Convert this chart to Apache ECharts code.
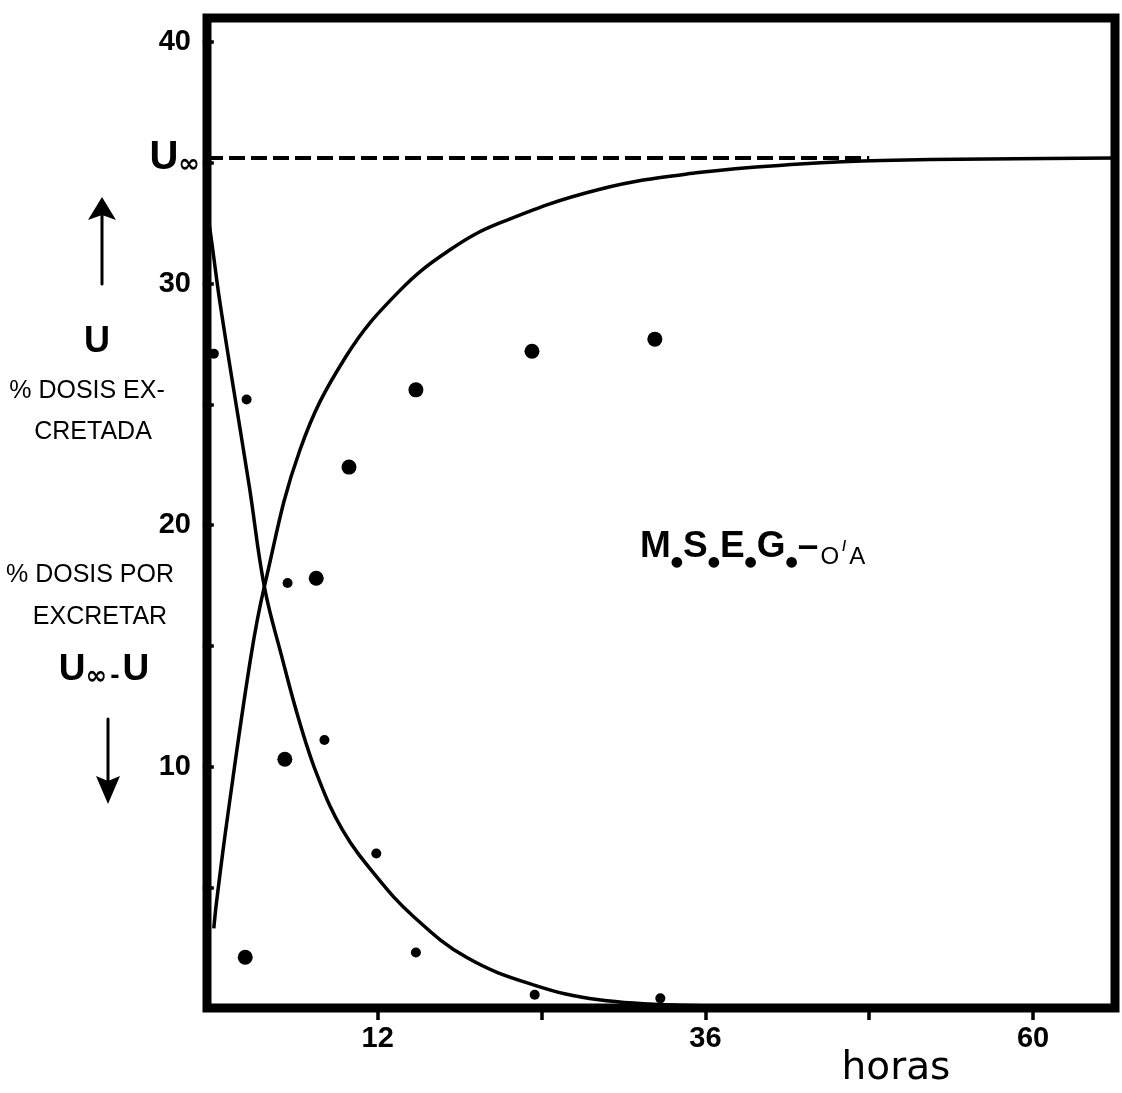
<!DOCTYPE html>
<html>
<head>
<meta charset="utf-8">
<script src="https://cdn.jsdelivr.net/npm/echarts@6/dist/echarts.min.js"></script>
<style>
  html, body { margin: 0; padding: 0; background: #fff; }
  #chart { width: 1122px; height: 1093px; }
</style>
</head>
<body>
<div id="chart"></div>
<script>
// Urinary excretion of M.S.E.G. (O/A): cumulative amount excreted U and
// amount still to be excreted (U∞ − U), both in % of dose, against hours.

// Measured cumulative excretion U (large dots)
const excretedHours = [2.3, 5.2, 7.5, 9.9, 14.8, 23.3, 32.3];
const excretedPct   = [2.1, 10.3, 17.8, 22.4, 25.6, 27.2, 27.7];

// Measured amount remaining U∞ − U (small dots)
const remainingHours = [0.0, 2.4, 5.4, 8.1, 11.9, 14.8, 23.5, 32.7];
const remainingPct   = [27.1, 25.2, 17.6, 11.1, 6.4, 2.3, 0.55, 0.4];

// Fitted curve for U
const fitHoursU = [0, 0.2, 1.0, 2.7, 3.7, 6.3, 9.7, 13.6, 17.3, 20.9, 28.2, 35.5, 42.9, 48.9, 66];
const fitU      = [3.3, 4.4, 7.9, 14.5, 17.45, 23.1, 27.0, 29.7, 31.4, 32.5, 33.9, 34.6, 34.95, 35.1, 35.2];

// Fitted curve for U∞ − U
const fitHoursRemaining = [-0.5, -0.1, 0.4, 1.4, 2.6, 3.7, 5.0, 6.3, 7.6, 9.4, 11.9, 14.6, 18.5, 23.4, 28.2, 35, 45, 66];
const fitRemaining      = [33.1, 31.5, 29.4, 25.8, 21.6, 17.45, 14.5, 11.8, 9.6, 7.4, 5.45, 3.8, 2.1, 0.96, 0.34, 0.1, 0.03, 0];

// Asymptote U∞ and axis ticks
const uInfinity = 35.2;
const uInfinityEndHour = 48;
const xTickValues  = [12, 24, 36, 48, 60];
const xLabelValues = [12, 36, 60];
const yTickValues  = [5, 10, 15, 20, 25, 30, 35, 40];
const yLabelValues = [10, 20, 30, 40];

const FONT = 'Liberation Sans';
const pairs = (xs, ys) => xs.map((x, i) => [x, ys[i]]);

const chart = echarts.init(document.getElementById('chart'), null, { renderer: 'canvas' });

const tickLabel = {
  color: '#000', fontSize: 29, fontWeight: 'bold', fontFamily: FONT, margin: 16
};

function txt(x, y, text, extra) {
  return {
    type: 'text', x: x, y: y, z: 10,
    style: Object.assign({
      text: text, fill: '#000',
      fontFamily: FONT, fontSize: 25,
      align: 'center', verticalAlign: 'middle',
      textAlign: 'center', textVerticalAlign: 'middle'
    }, extra || {})
  };
}

chart.setOption({
  animation: false,
  backgroundColor: '#fff',
  grid: {
    left: 207, right: 7, top: 18, bottom: 85,
    show: true, borderColor: '#000', borderWidth: 9, backgroundColor: 'transparent'
  },
  xAxis: {
    type: 'value', min: -0.5, max: 66,
    axisLine: { show: false },
    splitLine: { show: false },
    axisTick: { show: true, customValues: xTickValues, length: 12, lineStyle: { color: '#000', width: 3.5 } },
    axisLabel: Object.assign({ customValues: xLabelValues }, tickLabel)
  },
  yAxis: {
    type: 'value', min: 0, max: 41,
    axisLine: { show: false },
    splitLine: { show: false },
    axisTick: { show: true, customValues: yTickValues, length: 11, lineStyle: { color: '#000', width: 3.5 } },
    axisLabel: Object.assign({ customValues: yLabelValues }, tickLabel)
  },
  series: [
    {
      type: 'line', name: 'U',
      data: pairs(fitHoursU, fitU),
      smooth: 0.4, showSymbol: false, silent: true,
      lineStyle: { color: '#000', width: 3.5 },
      z: 3,
      markLine: {
        silent: true, symbol: ['none', 'none'],
        lineStyle: { color: '#000', width: 4, type: [16, 6] },
        label: {
          show: true, position: 'start', distance: 7,
          formatter: '{u|U}{i|∞}',
          rich: {
            u: { fontSize: 40, fontWeight: 'bold', fontFamily: FONT, color: '#000', lineHeight: 40 },
            i: { fontSize: 26, fontWeight: 'bold', fontFamily: 'DejaVu Sans', color: '#000', lineHeight: 14, verticalAlign: 'bottom' }
          }
        },
        data: [[{ coord: [-0.5, uInfinity] }, { coord: [uInfinityEndHour, uInfinity] }]]
      }
    },
    {
      type: 'line', name: 'U∞ − U',
      data: pairs(fitHoursRemaining, fitRemaining),
      smooth: 0.4, showSymbol: false, silent: true,
      lineStyle: { color: '#000', width: 3.5 },
      z: 3
    },
    {
      type: 'scatter', name: 'U medido',
      data: pairs(excretedHours, excretedPct),
      symbol: 'circle', symbolSize: 15, silent: true,
      itemStyle: { color: '#000', opacity: 1 }, z: 4
    },
    {
      type: 'scatter', name: 'U∞ − U medido',
      data: pairs(remainingHours, remainingPct),
      symbol: 'circle', symbolSize: 10, silent: true,
      itemStyle: { color: '#000', opacity: 1 }, z: 4
    }
  ],
  graphic: [
    // up arrow (U increasing)
    { type: 'line', z: 10, shape: { x1: 102, y1: 212, x2: 102, y2: 284 }, style: { stroke: '#000', lineWidth: 3, lineCap: 'round' } },
    { type: 'polygon', z: 10, shape: { points: [[102, 197], [88, 220], [102, 215], [116, 220]] }, style: { fill: '#000' } },
    txt(97, 342, 'U', { fontSize: 36, fontWeight: 'bold' }),
    txt(87, 391, '% DOSIS EX-'),
    txt(93, 432, 'CRETADA'),
    txt(90, 575, '% DOSIS POR'),
    txt(100, 617, 'EXCRETAR'),
    {
      type: 'text', x: 104, y: 650, z: 10,
      style: {
        text: '{a|U}{b|∞}{c|-}{a|U}', fill: '#000',
        align: 'center', verticalAlign: 'top', textAlign: 'center', textVerticalAlign: 'top',
        rich: {
          a: { fontSize: 37, fontWeight: 'bold', fontFamily: FONT, lineHeight: 40 },
          b: { fontSize: 26, fontWeight: 'bold', fontFamily: 'DejaVu Sans', lineHeight: 14, verticalAlign: 'bottom' },
          c: { fontSize: 28, fontWeight: 'bold', fontFamily: FONT, lineHeight: 24, verticalAlign: 'bottom', padding: [0, 3, 0, 3] }
        }
      }
    },
    // down arrow (U∞ − U decreasing)
    { type: 'line', z: 10, shape: { x1: 108, y1: 719, x2: 108, y2: 785 }, style: { stroke: '#000', lineWidth: 3, lineCap: 'round' } },
    { type: 'polygon', z: 10, shape: { points: [[108, 804], [96, 776], [108, 781], [120, 776]] }, style: { fill: '#000' } },
    // series label
    {
      type: 'text', x: 640, y: 525, z: 10,
      style: {
        text: '{m|M}{d|●}{m|S}{d|●}{m|E}{d|●}{m|G}{d|●}{m|–}{s| }{o|O}{sl|/}{o|A}', fill: '#000',
        align: 'left', verticalAlign: 'top', textAlign: 'left', textVerticalAlign: 'top',
        rich: {
          m: { fontSize: 37, fontWeight: 'bold', fontFamily: FONT, lineHeight: 40 },
          d: { fontSize: 14, fontFamily: 'DejaVu Sans', lineHeight: 12, verticalAlign: 'bottom' },
          s: { fontSize: 8, fontFamily: FONT, lineHeight: 8 },
          o: { fontSize: 24, fontFamily: FONT, lineHeight: 30, verticalAlign: 'bottom' },
          sl: { fontSize: 14, fontWeight: 'bold', fontFamily: FONT, lineHeight: 44, padding: [0, 3, 0, 3] }
        }
      }
    },
    // x axis title
    txt(896, 1069, 'horas', { fontSize: 39, fontFamily: 'DejaVu Sans' })
  ]
});
</script>
</body>
</html>
